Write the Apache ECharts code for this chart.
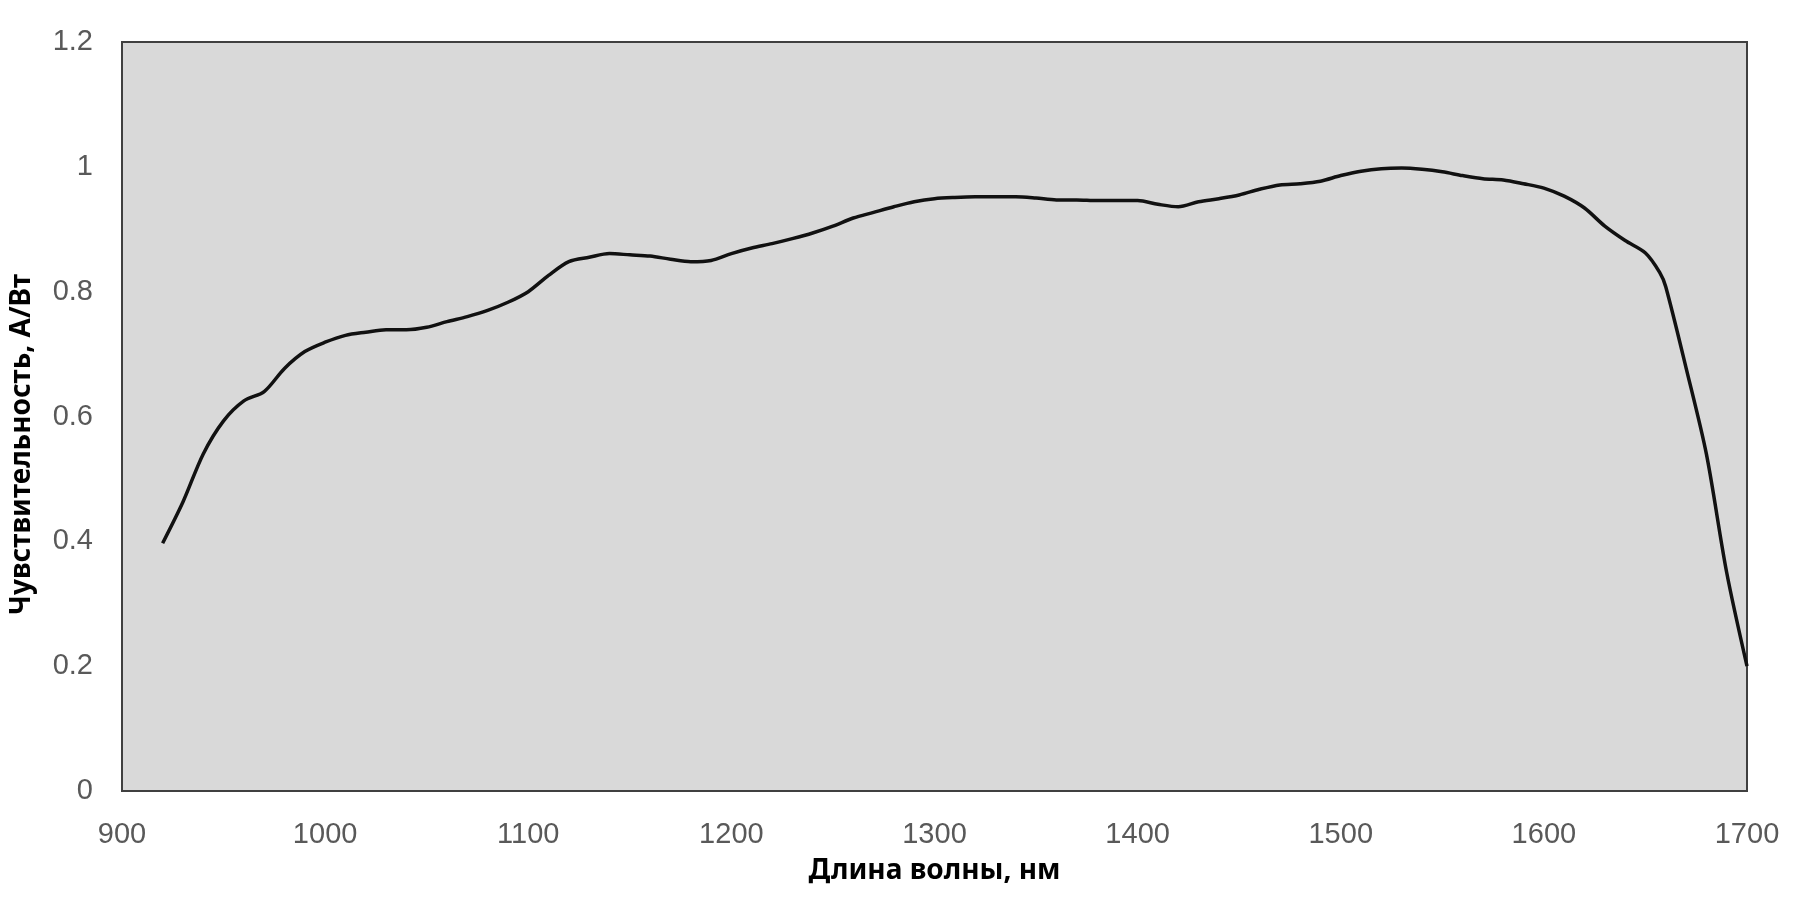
<!DOCTYPE html>
<html>
<head>
<meta charset="utf-8">
<script src="https://cdn.jsdelivr.net/npm/echarts@6/dist/echarts.min.js"></script>
<style>
html,body{margin:0;padding:0;background:#fff;}
#chart{width:1802px;height:897px;}
</style>
</head>
<body>
<div id="chart"></div>
<script>
const wavelengths = [920,930,940,950,960,970,980,990,1000,1010,1020,1030,1040,1050,1060,1070,1080,1090,1100,1110,1120,1130,1140,1150,1160,1170,1180,1190,1200,1210,1220,1230,1240,1250,1260,1270,1280,1290,1300,1310,1320,1330,1340,1350,1360,1370,1380,1390,1400,1410,1420,1430,1440,1450,1460,1470,1480,1490,1500,1510,1520,1530,1540,1550,1560,1570,1580,1590,1600,1610,1620,1630,1640,1650,1657,1660,1670,1680,1690,1700];
const responsivity = [0.397,0.463,0.54,0.593,0.625,0.64,0.677,0.704,0.719,0.73,0.735,0.739,0.739,0.743,0.752,0.76,0.77,0.783,0.8,0.826,0.848,0.855,0.861,0.859,0.857,0.852,0.848,0.85,0.861,0.87,0.877,0.885,0.894,0.905,0.918,0.927,0.936,0.944,0.949,0.951,0.952,0.952,0.952,0.95,0.947,0.947,0.946,0.946,0.946,0.94,0.936,0.944,0.949,0.955,0.964,0.971,0.973,0.977,0.986,0.993,0.997,0.998,0.996,0.992,0.986,0.981,0.979,0.973,0.966,0.953,0.934,0.905,0.882,0.862,0.831,0.808,0.678,0.54,0.35,0.2];
const xTicks = [900,1000,1100,1200,1300,1400,1500,1600,1700];
const yTicks = [0,0.2,0.4,0.6,0.8,1,1.2];
const xName = 'Длина волны, нм';
const yName = 'Чувствительность, А/Вт';

const chart = echarts.init(document.getElementById('chart'));
chart.setOption({
  animation: false,
  backgroundColor: '#ffffff',
  grid: {left:122, right:55, top:42, bottom:106, outerBoundsMode:'none', containLabel:false,
    show:true, backgroundColor:'#d9d9d9', borderColor:'#404040', borderWidth:2},
  xAxis: {
    type:'value', min:xTicks[0], max:xTicks[xTicks.length-1], interval:100,
    name:xName, nameLocation:'middle', nameGap:66,
    nameTextStyle:{fontFamily:'Noto Sans', fontWeight:'bold', fontSize:28, color:'#000'},
    axisLine:{show:true, lineStyle:{color:'#404040', width:2}},
    axisTick:{show:false}, splitLine:{show:false},
    axisLabel:{fontFamily:'Liberation Sans', fontSize:29, color:'#595959', margin:29,
      formatter: v => String(v)}
  },
  yAxis: {
    type:'value', min:yTicks[0], max:yTicks[yTicks.length-1], interval:0.2,
    name:yName, nameLocation:'middle', nameGap:86,
    nameTextStyle:{fontFamily:'Noto Sans', fontWeight:'bold', fontSize:28, color:'#000', padding:[0,56,0,0]},
    axisLine:{show:true, lineStyle:{color:'#404040', width:2}},
    axisTick:{show:false}, splitLine:{show:false},
    axisLabel:{fontFamily:'Liberation Sans', fontSize:29, color:'#595959', margin:29,
      formatter: v => String(Math.round(v*10)/10)}
  },
  series: [{
    type:'line', data: wavelengths.map((w,i)=>[w, responsivity[i]]),
    smooth:0.3, showSymbol:false,
    lineStyle:{color:'#111', width:3.5}
  }]
});
</script>
</body>
</html>
